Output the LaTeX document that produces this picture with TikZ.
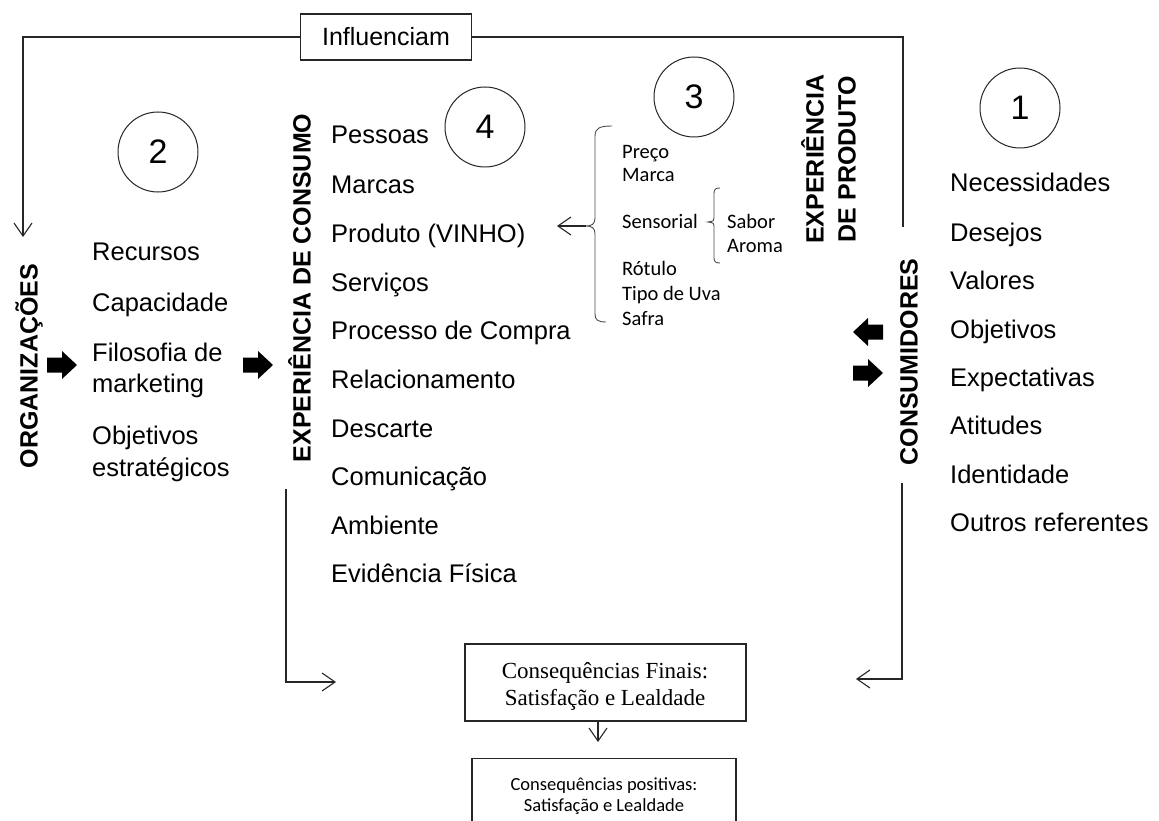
\documentclass[tikz,border=0pt]{standalone}
\usepackage{fontspec}
\setmainfont{Liberation Sans}
\newfontfamily\calib{Carlito}
\newfontfamily\tnr{Liberation Serif}
\usetikzlibrary{arrows.meta}
\begin{document}
\begin{tikzpicture}[x=1pt,y=-1pt,
  line/.style={line width=1.1pt, draw=black!85},
  arr/.style={line, -{Straight Barb[length=13pt,width=18pt]}},
  lst/.style={anchor=base west, inner sep=0pt, font=\fontsize{25.5}{30}\selectfont},
  sml/.style={anchor=base west, inner sep=0pt, font=\calib\fontsize{20.5}{24}\selectfont},
  vlab/.style={rotate=90, inner sep=0pt, font=\bfseries\fontsize{25}{32}\selectfont, align=center},
  num/.style={draw=black!85, line width=1pt, circle, minimum size=80pt, inner sep=0pt, font=\fontsize{34}{36}\selectfont},
  brace/.style={line width=0.9pt, draw=black!70},
  boxed/.style={draw=black!85, line width=1.1pt, inner sep=0pt},
  fatarrow/.pic={\fill (0,-7.5) -- (15,-7.5) -- (15,-14) -- (30,0) -- (15,14) -- (15,7.5) -- (0,7.5) -- cycle;}
]
\fill[white] (0,0) rectangle (1159,821);
\path[use as bounding box] (0,0) rectangle (1159,821);

% circles
\node[num] (c2) at (158,152) {2};
\node[num] (c4) at (485,127) {4};
\node[num] (c3) at (694,97) {3};
\node[num] (c1) at (1020,108) {1};

% Influenciam
\node[boxed, minimum width=171pt, minimum height=46pt, font=\fontsize{25}{30}\selectfont] (infl) at (386,37) {Influenciam};

% vertical labels
\node[vlab] (org) at (29,366) {ORGANIZAÇÕES};
\node[vlab] (expc) at (299.5,288) {EXPERIÊNCIA DE CONSUMO};
\node[vlab] (cons) at (909,362) {CONSUMIDORES};
\node[vlab] (expp) at (828.5,159) {EXPERIÊNCIA\\DE PRODUTO};

% left list
\node[lst] (recursos) at (92,260) {Recursos};
\node[lst] (capac) at (92,311) {Capacidade};
\node[lst] (filo) at (92,361) {Filosofia de};
\node[lst] (mkt) at (92,392) {marketing};
\node[lst] (objet) at (92,444) {Objetivos};
\node[lst] (estrat) at (92,476) {estratégicos};

% middle list
\node[lst] (m1) at (331,144) {Pessoas};
\node[lst] (m2) at (331,194) {Marcas};
\node[lst] (m3) at (331,242) {Produto (VINHO)};
\node[lst] (m4) at (331,291) {Serviços};
\node[lst] (m5) at (331,339) {Processo de Compra};
\node[lst] (m6) at (331,388) {Relacionamento};
\node[lst] (m7) at (331,437) {Descarte};
\node[lst] (m8) at (331,485) {Comunicação};
\node[lst] (m9) at (331,534) {Ambiente};
\node[lst] (m10) at (331,582) {Evidência Física};

% right list
\node[lst] (r1) at (950,192) {Necessidades};
\node[lst] (r2) at (950,241) {Desejos};
\node[lst] (r3) at (950,289) {Valores};
\node[lst] (r4) at (950,338) {Objetivos};
\node[lst] (r5) at (950,386) {Expectativas};
\node[lst] (r6) at (950,434) {Atitudes};
\node[lst] (r7) at (950,483) {Identidade};
\node[lst] (r8) at (950,531) {Outros referentes};

% product attributes
\node[sml] (preco) at (622,159) {Preço};
\node[sml] (marca) at (622,182) {Marca};
\node[sml] (sens) at (622,229) {Sensorial};
\node[sml] (sabor) at (727,229) {Sabor};
\node[sml] (aroma) at (727,252) {Aroma};
\node[sml] (rotulo) at (622,275) {Rótulo};
\node[sml] (uva) at (622,300) {Tipo de Uva};
\node[sml] (safra) at (622,325) {Safra};

% braces
\draw[brace] (612,126) .. controls (600,126) and (595,128) .. (595,136) -- (595,218) .. controls (595,224) and (592,226) .. (586,226) .. controls (592,226) and (595,228) .. (595,234) -- (595,314) .. controls (595,320) and (598,322) .. (606,322);
\draw[brace] (720,188) .. controls (716,188) and (714,189) .. (714,193) -- (714,218) .. controls (714,221) .. (708,222) .. controls (714,223) .. (714,226) -- (714,258) .. controls (714,262) and (716,263) .. (720,263);
\coordinate (brtip) at (586,226);
\coordinate (prodin) at (557,226);
\draw[arr] (brtip) -- (prodin);

% fat arrows
\pic (fa1) at (47,365) {fatarrow};
\pic (fa2) at (243,365) {fatarrow};
\pic[xscale=-1] (fa3) at (883,332) {fatarrow};
\pic (fa4) at (853,373) {fatarrow};

% loop connectors
\coordinate (tl) at (23,37);
\coordinate (orgin) at (23,237);
\draw[arr] (infl.west) -- (tl) -- (orgin);
\coordinate (tr) at (903,37);
\coordinate (trend) at (903,227);
\draw[line] (infl.east) -- (tr) -- (trend);

\coordinate (lb0) at (286,489);
\coordinate (lb1) at (286,682);
\coordinate (lb2) at (336,682);
\draw[arr] (lb0) -- (lb1) -- (lb2);
\coordinate (rb0) at (902,483);
\coordinate (rb1) at (902,679);
\coordinate (rb2) at (856,679);
\draw[arr] (rb0) -- (rb1) -- (rb2);

% consequences
\node[boxed, minimum width=281pt, minimum height=77pt] (fin) at (605.5,682.5) {};
\node[anchor=base, inner sep=0pt, font=\tnr\fontsize{23}{27}\selectfont] (fin1) at (605,678) {Consequências Finais:};
\node[anchor=base, inner sep=0pt, font=\tnr\fontsize{23}{27}\selectfont] (fin2) at (605,705) {Satisfação e Lealdade};
\coordinate (dtip) at (598,742);
\draw[arr] (fin.south -| dtip) -- (dtip);

\begin{scope}
\clip (0,0) rectangle (1159,821);
\node[boxed, minimum width=264pt, minimum height=72pt, anchor=north] (posit) at (604,758) {};
\end{scope}
\node[anchor=base, inner sep=0pt, font=\calib\fontsize{18.5}{21}\selectfont] (pos1) at (604,790) {Consequências positivas:};
\node[anchor=base, inner sep=0pt, font=\calib\fontsize{18.5}{21}\selectfont] (pos2) at (604,811) {Satisfação e Lealdade};
\end{tikzpicture}
\end{document}
